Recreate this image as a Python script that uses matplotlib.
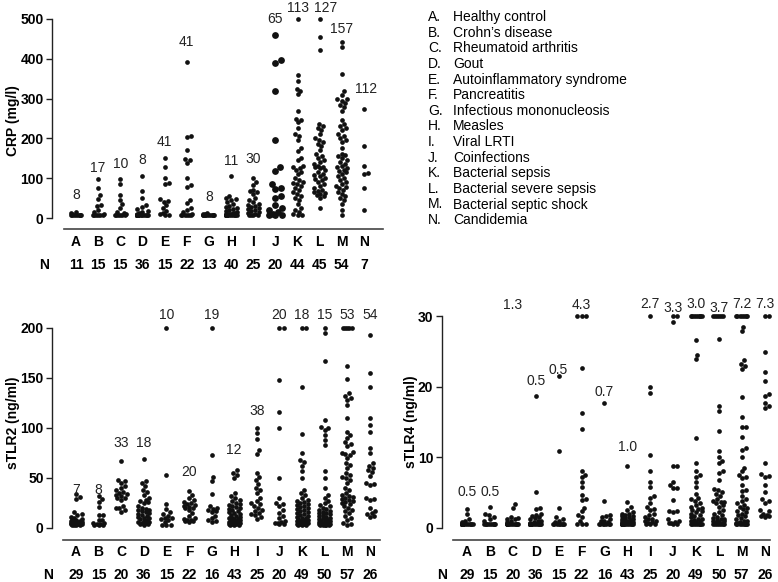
import matplotlib
matplotlib.use('Agg')
import matplotlib.pyplot as plt
from matplotlib.lines import Line2D
import numpy as np

plt.rcParams['font.family'] = ['Liberation Sans', 'DejaVu Sans']

# ---- data ----------------------------------------------------------------
groups = list('ABCDEFGHIJKLMN')
legend_names = ['Healthy control', 'Crohn\u2019s disease', 'Rheumatoid arthritis', 'Gout',
                'Autoinflammatory syndrome', 'Pancreatitis', 'Infectious mononucleosis',
                'Measles', 'Viral LRTI', 'Coinfections', 'Bacterial sepsis',
                'Bacterial severe sepsis', 'Bacterial septic shock', 'Candidemia']

crp_values = [
    [8, 8, 8, 8, 8, 8, 8, 8, 10, 12, 15],
    [97, 75, 57, 47, 32, 30, 20, 15, 10, 8, 8, 8, 8, 8, 8],
    [97, 86, 58, 45, 35, 25, 15, 12, 10, 8, 8, 8, 8, 8, 8],
    [105, 67, 50, 33, 28, 22, 18, 15, 12, 10] + [8] * 26,
    [150, 128, 100, 88, 85, 47, 43, 41, 32, 25, 18, 12, 10, 8, 8],
    [393, 206, 204, 172, 148, 145, 138, 100, 82, 77, 45, 37, 25, 20, 15, 10, 8, 8, 8, 8, 8, 8],
    [8] * 10 + [10, 10, 12],
    [105, 55, 50, 48, 45, 40, 35, 30, 28, 25, 22, 20, 18, 15, 12, 12, 11, 11, 10, 10] + [8] * 20,
    [100, 90, 82, 70, 68, 65, 60, 50, 45, 40, 35, 32, 30, 28, 25, 22, 20, 18, 15, 12, 10, 8, 8, 8, 8],
    [460, 398, 390, 320, 197, 127, 118, 85, 75, 72, 55, 50, 33, 25, 20, 15, 10, 8, 8, 8],
    [500, 360, 345, 325, 320, 312, 270, 250, 245, 240, 225, 210, 205, 195, 175, 168, 150, 145,
     130, 128, 125, 120, 115, 110, 100, 95, 90, 88, 85, 80, 75, 70, 65, 60, 55, 50, 45, 35,
     25, 20, 15, 10, 8, 8],
    [500, 455, 422, 235, 230, 225, 220, 210, 200, 195, 190, 185, 180, 170, 160, 155, 150, 145,
     140, 135, 130, 128, 127, 125, 120, 115, 110, 108, 105, 100, 98, 95, 90, 85, 80, 75, 70,
     68, 65, 62, 60, 58, 55, 50, 25],
    [443, 430, 363, 320, 310, 300, 298, 295, 290, 285, 280, 270, 245, 235, 230, 225, 220, 210,
     205, 200, 195, 190, 175, 160, 158, 155, 150, 145, 140, 135, 130, 128, 125, 120, 118, 115,
     110, 105, 100, 95, 90, 85, 80, 78, 75, 70, 65, 60, 55, 50, 45, 35, 20, 8],
    [275, 180, 130, 112, 110, 75, 20],
]
crp_n = [11, 15, 15, 36, 15, 22, 13, 40, 25, 20, 44, 45, 54, 7]
crp_medians = ['8', '17', '10', '8', '41', '41', '8', '11', '30', '65', '113', '127', '157', '112']

tlr2_values = [
    [34, 31, 29, 16, 14, 13, 11, 10, 9, 8, 8, 7, 7, 7, 6, 6, 5, 5, 5, 5, 4, 4, 4, 4, 4, 3, 3, 3, 3],
    [32, 29, 26, 21, 13, 13, 8, 8, 5, 5, 4, 4, 3, 3, 3],
    [67, 48, 47, 45, 42, 40, 38, 36, 35, 34, 33, 32, 30, 30, 28, 22, 20, 20, 18, 16],
    [69, 47, 45, 42, 38, 36, 33, 30, 28, 27, 26, 25, 22, 20, 19, 18, 18, 17, 16, 15, 14, 13,
     12, 11, 10, 10, 9, 8, 7, 6, 6, 5, 5, 4, 4, 3],
    [200, 53, 24, 19, 16, 14, 12, 10, 10, 9, 8, 6, 3, 3, 3],
    [37, 33, 30, 28, 26, 25, 24, 23, 22, 21, 20, 20, 18, 15, 12, 10, 9, 8, 8, 7, 7, 6],
    [200, 73, 51, 47, 34, 22, 20, 19, 18, 17, 16, 12, 10, 8, 7, 6],
    [58, 55, 53, 50, 35, 32, 30, 28, 27, 25, 24, 23, 22, 21, 20, 19, 18, 17, 16, 15, 14, 13,
     12, 11, 10, 10, 9, 9, 8, 8, 7, 7, 6, 6, 5, 5, 5, 4, 4, 4, 3, 3, 3],
    [100, 95, 89, 78, 74, 55, 51, 48, 44, 40, 38, 35, 30, 27, 25, 24, 22, 20, 18, 17, 15, 14, 13, 11, 9],
    [200, 200, 148, 116, 100, 50, 30, 25, 24, 22, 18, 15, 12, 10, 7, 6, 5, 5, 4, 4],
    [200, 200, 141, 94, 75, 68, 66, 62, 57, 50, 38, 35, 33, 30, 28, 27, 26, 25, 24, 23, 22, 21,
     20, 19, 18, 17, 16, 15, 14, 13, 12, 11, 10, 10, 9, 8, 8, 7, 7, 6, 6, 5, 5, 4, 4, 4, 3, 3, 3],
    [200, 195, 167, 108, 101, 100, 98, 93, 88, 83, 57, 50, 40, 33, 30, 27, 25, 23, 22, 20, 19,
     18, 17, 16, 15, 15, 14, 13, 12, 11, 10, 10, 9, 8, 8, 7, 7, 6, 6, 5, 5, 5, 4, 4, 4, 3, 3, 3, 3, 3],
    [200, 200, 200, 200, 200, 162, 149, 135, 132, 130, 128, 123, 110, 96, 93, 90, 86, 84, 82, 76,
     75, 74, 73, 70, 65, 63, 60, 55, 53, 51, 50, 48, 45, 40, 38, 35, 33, 32, 31, 30, 29, 28, 27,
     26, 25, 24, 22, 20, 18, 17, 15, 12, 10, 8, 5, 4, 3],
    [193, 155, 141, 110, 103, 96, 80, 75, 65, 62, 60, 58, 56, 52, 45, 44, 43, 30, 29, 28, 20,
     17, 15, 14, 12, 11],
]
tlr2_n = [29, 15, 20, 36, 15, 22, 16, 43, 25, 20, 49, 50, 57, 26]
tlr2_medians = ['7', '8', '33', '18', '10', '20', '19', '12', '38', '20', '18', '15', '53', '54']

tlr4_values = [
    [2.7, 2.0, 1.2, 1.0, 0.8] + [0.5] * 24,
    [3.0, 2.0, 1.8, 1.5, 1.2, 1.0] + [0.5] * 9,
    [3.3, 2.8, 1.5, 1.4, 1.3, 1.2, 1.0, 0.8] + [0.5] * 12,
    [18.7, 5.0, 2.8, 2.6, 2.0, 1.8, 1.6, 1.5, 1.4, 1.2, 1.0, 0.9, 0.8, 0.7] + [0.5] * 22,
    [21.5, 10.9, 2.8, 1.5, 1.2, 1.0, 0.8] + [0.5] * 8,
    [30, 30, 30, 22.6, 16.2, 14.0, 8.0, 7.5, 7.2, 6.5, 5.8, 4.7, 4.0, 3.9, 2.8, 2.3, 1.8, 1.5,
     1.0, 0.5, 0.5, 0.5],
    [17.7, 3.8, 1.8, 1.6, 1.5, 1.2, 1.0, 0.9, 0.8] + [0.5] * 7,
    [8.8, 3.6, 2.9, 2.5, 2.2, 2.0, 1.9, 1.8, 1.7, 1.6, 1.5, 1.4, 1.3, 1.2, 1.1, 1.0, 1.0, 1.0,
     0.9, 0.9, 0.8, 0.8, 0.7, 0.7, 0.6, 0.6] + [0.5] * 17,
    [30, 20, 19.1, 10.3, 8.0, 6.5, 5.7, 4.5, 4.2, 3.5, 2.9, 2.7, 2.5, 2.0, 1.8, 1.5, 1.3, 1.2,
     1.0, 1.0, 0.8, 0.7, 0.5, 0.5, 0.5],
    [30, 30, 29.2, 8.7, 8.7, 6.5, 6.0, 5.6, 5.6, 3.9, 2.4, 2.3, 2.2, 1.2, 1.0, 0.8, 0.7, 0.6, 0.5, 0.5],
    [30] * 8 + [26.6, 24.5, 23.9, 12.7, 9.2, 8.0, 7.5, 7.2, 6.5, 5.8, 4.8, 4.2, 4.0, 3.8, 3.5,
                3.2, 3.0, 2.8, 2.6, 2.5, 2.3, 2.2, 2.0, 1.8, 1.6, 1.5, 1.3, 1.2, 1.1, 1.0, 0.9,
                0.8, 0.7] + [0.5] * 8,
    [30] * 6 + [26.7, 17.3, 16.5, 13.7, 10.8, 10.0, 9.5, 9.1, 8.0, 7.8, 6.7, 5.5, 5.3, 5.0, 4.8,
                4.5, 4.0, 3.8, 3.7, 3.6, 3.5, 3.2, 3.0, 2.5, 2.2, 2.0, 1.8, 1.5, 1.4, 1.3, 1.2,
                1.1, 1.0, 0.9, 0.8, 0.7, 0.6] + [0.5] * 7,
    [30] * 7 + [28.5, 27.9, 23.7, 23.2, 22.9, 22.5, 18.5, 15.7, 14.3, 14.2, 12.8, 11.3, 11.0,
                10.0, 8.5, 8.0, 7.5, 7.2, 7.0, 6.0, 5.4, 5.2, 4.5, 4.0, 3.8, 3.5, 3.2, 3.0, 2.8,
                2.6, 2.4, 2.2, 2.0, 1.8, 1.6, 1.4, 1.2, 1.0, 0.9, 0.8, 0.7, 0.6] + [0.5] * 8,
    [30, 30, 24.9, 22.0, 20.8, 19.0, 18.7, 17.7, 17.3, 17.0, 9.2, 7.6, 7.3, 7.2, 6.0, 5.0, 4.0,
     3.8, 3.5, 2.5, 2.3, 2.0, 1.8, 1.7, 1.6, 1.5],
]
tlr4_n = [29, 15, 20, 36, 15, 22, 16, 43, 25, 20, 49, 50, 57, 26]
tlr4_medians = ['0.5', '0.5', '1.3', '0.5', '0.5', '4.3', '0.7', '1.0', '2.7', '3.3', '3.0', '3.7', '7.2', '7.3']

# ---- layout (pixels of the 778x582 canvas) --------------------------------
W, H = 778, 582
fig = plt.figure(figsize=(W / 100, H / 100), dpi=100)

panels = [
    dict(values=crp_values, n=crp_n, med=crp_medians, ylabel='CRP (mg/l)',
         ymax=500, ystep=100, spine_x=52, top=19, bottom=218, first=76, step=22.15,
         axis_line=(64, 383, 229), letter_y=242, n_y=265, n_x=44, ylabel_x=13, ylabel_y=121,
         med_y=[58, 125, 136, 146, 192, 441, 54, 142, 147, 500, 527, 527, 474, 323],
         med_dx=[0] * 11 + [0.25, 0, 0.1],
         big={9}),
    dict(values=tlr2_values, n=tlr2_n, med=tlr2_medians, ylabel='sTLR2 (ng/ml)',
         ymax=200, ystep=50, spine_x=52, top=327.7, bottom=527.7, first=76, step=22.6,
         axis_line=(63, 380, 540), letter_y=552, n_y=575, n_x=48, ylabel_x=13, ylabel_y=423,
         med_y=[38, 38, 85, 85, 213, 56, 213, 78, 117, 213, 213, 213, 213, 213],
         med_dx=[0] * 14,
         big=set()),
    dict(values=tlr4_values, n=tlr4_n, med=tlr4_medians, ylabel='sTLR4 (ng/ml)',
         ymax=30, ystep=10, spine_x=441.7, top=316, bottom=527.7, first=467, step=22.9,
         axis_line=(453, 770, 540), letter_y=552, n_y=575, n_x=442, ylabel_x=411, ylabel_y=422,
         med_y=[5.0, 5.0, 31.6, 20.8, 22.3, 31.6, 19.3, 11.5, 31.7, 31.2, 31.7, 31.2, 31.7, 31.7],
         med_dx=[0] * 14,
         big=set()),
]


def swarm_x(ax, xc, vals, diam, maxw):
    """Prism-like scatter: spread close points sideways, overlap beyond maxw."""
    tr = ax.transData
    pts = tr.transform(np.column_stack([np.full(len(vals), xc), vals]))
    cx, ys = pts[0, 0], pts[:, 1]
    placed = []
    off = np.zeros(len(vals))
    for idx in np.argsort(ys, kind='stable'):
        y = ys[idx]
        near = [(px, py) for px, py in placed if abs(py - y) < diam]
        cands = [0.0]
        for px, py in near:
            dx = np.sqrt(diam ** 2 - (py - y) ** 2)
            cands += [px + dx, px - dx]
        best = None
        for c in sorted(cands, key=abs):
            if abs(c) > maxw + 1e-6:
                continue
            if all((c - px) ** 2 + (y - py) ** 2 >= diam ** 2 - 1e-6 for px, py in near):
                best = c
                break
        if best is None:
            grid = np.linspace(-maxw, maxw, 7)
            best = max(grid, key=lambda g: min((g - px) ** 2 + (y - py) ** 2 for px, py in near))
        placed.append((best, y))
        off[idx] = best
    return tr.inverted().transform(np.column_stack([cx + off, ys]))[:, 0]


for p in panels:
    x_right = p['axis_line'][1]
    x0 = (p['spine_x'] - p['first']) / p['step']
    x1 = (x_right - p['first']) / p['step']
    ax = fig.add_axes([p['spine_x'] / W, 1 - p['bottom'] / H,
                       (x_right - p['spine_x']) / W, (p['bottom'] - p['top']) / H])
    ax.set_xlim(x0, x1)
    ax.set_ylim(0, p['ymax'])
    ax.patch.set_visible(False)
    for s in ['top', 'right', 'bottom']:
        ax.spines[s].set_visible(False)
    ax.spines['left'].set_linewidth(1.0)
    ax.spines['left'].set_color('#222222')
    ax.set_xticks([])
    ax.set_yticks(np.arange(0, p['ymax'] + 1, p['ystep']))
    ax.tick_params(axis='y', length=4, width=1, pad=2, labelsize=10, color='#222222')
    for lbl in ax.get_yticklabels():
        lbl.set_fontweight('bold')

    for i, vals in enumerate(p['values']):
        big = i in p['big']
        diam = 6.5 if big else 4.6
        xs = swarm_x(ax, i, vals, diam * 0.95, 6.5 if big else 5.5)
        ax.scatter(xs, vals, s=24 if big else 11.5, color='#111111', linewidths=0,
                   clip_on=False, zorder=3)
        ax.text(i + p['med_dx'][i], p['med_y'][i], p['med'][i], ha='center', va='center',
                fontsize=10, color='#222222')

    # detached x axis line, group letters and N row
    xa, xb, ya = p['axis_line']
    fig.add_artist(Line2D([xa / W, xb / W], [1 - ya / H, 1 - ya / H], color='#444444', lw=1.2))
    for i, g in enumerate(groups):
        xp = (p['first'] + i * p['step']) / W
        fig.text(xp, 1 - p['letter_y'] / H, g, ha='center', va='center', fontsize=10,
                 fontweight='bold')
        fig.text(xp, 1 - p['n_y'] / H, str(p['n'][i]), ha='center', va='center', fontsize=10,
                 fontweight='bold')
    fig.text(p['n_x'] / W, 1 - p['n_y'] / H, 'N', ha='center', va='center', fontsize=10,
             fontweight='bold')
    fig.text(p['ylabel_x'] / W, 1 - p['ylabel_y'] / H, p['ylabel'], rotation=90,
             ha='center', va='center', fontsize=10, fontweight='bold')

# legend of group names
for i, (g, name) in enumerate(zip(groups, legend_names)):
    y = 1 - (17.3 + i * 15.6) / H
    fig.text(428 / W, y, g + '.', ha='left', va='center', fontsize=10)
    fig.text(453 / W, y, name, ha='left', va='center', fontsize=10)

fig.savefig('out.png', dpi=100)
